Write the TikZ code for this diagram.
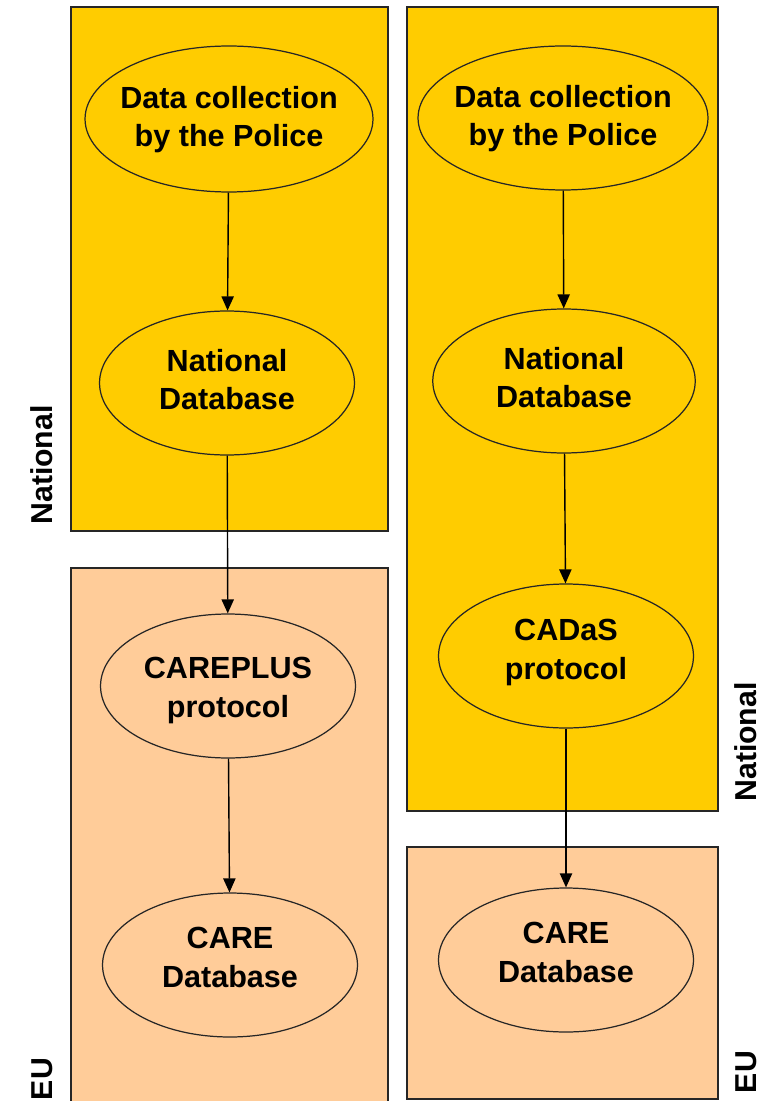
\documentclass[tikz,border=0pt]{standalone}
\usepackage{fontspec}
\setmainfont{Liberation Sans}
\usepackage{xcolor}
\usetikzlibrary{arrows.meta,shapes.geometric}

\definecolor{natyellow}{HTML}{FFCC00}
\definecolor{eupeach}{HTML}{FFCC99}

\tikzset{
  natbox/.style={fill=natyellow, draw=black!85, line width=0.6pt},
  eubox/.style={fill=eupeach, draw=black!85, line width=0.6pt},
  bubble/.style={ellipse, draw=black!85, line width=0.7pt, inner sep=0pt,
    minimum width=5.1cm, minimum height=2.88cm},
  txt/.style={align=center, yshift=2pt,
    font=\fontsize{17.4}{22}\selectfont\bfseries},
  flow/.style={-{Triangle[length=8pt,width=7pt]}, line width=0.8pt},
  side/.style={rotate=90, font=\fontsize{17.2}{20}\selectfont\bfseries}
}

\begin{document}
\begin{tikzpicture}[x=0.02cm, y=-0.02cm]
  \useasboundingbox (0,0) rectangle (772,1101);

  % Background boxes
  \draw[natbox] (71,7) rectangle (388,531);
  \draw[eubox] (71,568) rectangle (388,1110);
  \draw[natbox] (407,7) rectangle (718,811);
  \draw[eubox] (407,847) rectangle (718,1099);

  % Side labels
  \node[side] (natL) at (42,465) {National};
  \node[side] (euL) at (42,1079) {EU};
  \node[side] (natR) at (746,742) {National};
  \node[side] (euR) at (746,1072) {EU};

  % Left chain: CAREPLUS
  \node[bubble, minimum width=5.76cm, minimum height=2.92cm,
    label={[txt, yshift=-2.3pt]center:{Data collection\\by the Police}}] (polL) at (229,119) {};
  \node[bubble, label={[txt]center:{National\\Database}}] (natdbL) at (227,383) {};
  \node[bubble, label={[txt, yshift=-4.5pt]center:{CAREPLUS\\protocol}}] (plus) at (228,686) {};
  \node[bubble, label={[txt, yshift=2.3pt]center:{CARE\\Database}}] (careL) at (230,965) {};

  % Right chain: CADaS
  \node[bubble, minimum width=5.8cm, minimum height=2.88cm,
    label={[txt, yshift=-2.3pt]center:{Data collection\\by the Police}}] (polR) at (563,118) {};
  \node[bubble, minimum width=5.25cm,
    label={[txt]center:{National\\Database}}] (natdbR) at (564,381) {};
  \node[bubble, label={[txt]center:{CADaS\\protocol}}] (cadas) at (566,656) {};
  \node[bubble, label={[txt, yshift=2.3pt]center:{CARE\\Database}}] (careR) at (566,960) {};

  % Arrows
  \draw[flow] (polL) -- (natdbL);
  \draw[flow] (natdbL) -- (plus);
  \draw[flow] (plus) -- (careL);
  \draw[flow] (polR) -- (natdbR);
  \draw[flow] (natdbR) -- (cadas);
  \draw[flow] (cadas) -- (careR);
\end{tikzpicture}
\end{document}
